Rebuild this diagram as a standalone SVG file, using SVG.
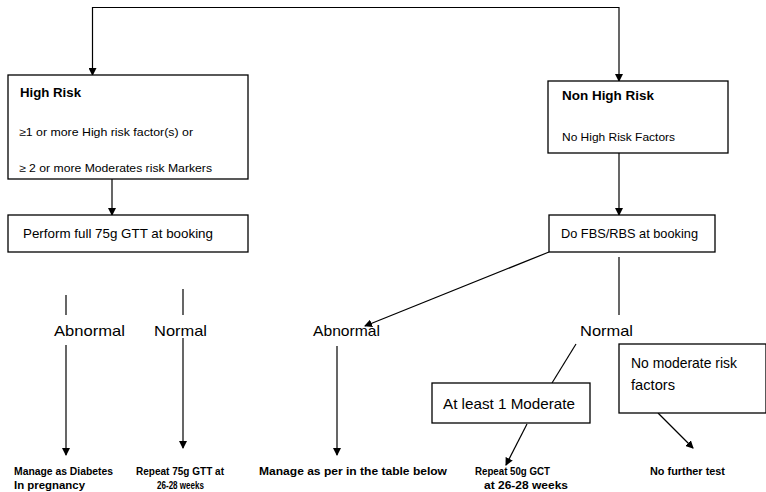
<svg xmlns="http://www.w3.org/2000/svg" width="766" height="492" viewBox="0 0 766 492">
<style>
.box{fill:#fff;stroke:#000;stroke-width:1.3}
.ln{fill:none;stroke:#000;stroke-width:1.2}
.t{font-family:"Liberation Sans",Arial,sans-serif;fill:#000}
.b{font-weight:bold}
</style>
<defs>
<marker id="ah" markerWidth="8" markerHeight="8" refX="7" refY="4" orient="auto" markerUnits="userSpaceOnUse">
<path d="M0,0 L8,4 L0,8 Z" fill="#000"/>
</marker>
</defs>
<rect width="766" height="492" fill="#fff"/>
<g id="connectors">
<path class="ln" d="M92.5,7.5 L619,7.5"/>
<path class="ln" d="M92.5,7 L92.5,75" marker-end="url(#ah)"/>
<path class="ln" d="M619,7 L619,81" marker-end="url(#ah)"/>
<path class="ln" d="M112,179 L112,215" marker-end="url(#ah)"/>
<path class="ln" d="M619,153 L619,215" marker-end="url(#ah)"/>
<path class="ln" d="M66,295 L66,315"/>
<path class="ln" d="M183,289 L183,315"/>
<path class="ln" d="M549,252 L365,326" marker-end="url(#ah)"/>
<path class="ln" d="M619,257 L619,315"/>
<path class="ln" d="M66,345 L66,455" marker-end="url(#ah)"/>
<path class="ln" d="M183,338 L183,448" marker-end="url(#ah)"/>
<path class="ln" d="M337,346 L337,455" marker-end="url(#ah)"/>
<path class="ln" d="M576,344 L552,383"/>
<path class="ln" d="M527,424 L506,465" marker-end="url(#ah)"/>
<path class="ln" d="M658,413 L693,448" marker-end="url(#ah)"/>
</g>
<g id="high-risk">
<rect class="box" x="8" y="75" width="240" height="104"/>
<text class="t b" x="20" y="97" font-size="13" textLength="61" lengthAdjust="spacingAndGlyphs">High Risk</text>
<text class="t" x="19" y="136" font-size="11" textLength="174" lengthAdjust="spacingAndGlyphs">≥1 or more High risk factor(s) or</text>
<text class="t" x="19" y="172" font-size="11" textLength="193" lengthAdjust="spacingAndGlyphs">≥ 2 or more Moderates risk Markers</text>
</g>
<g id="non-high-risk">
<rect class="box" x="548" y="81" width="180" height="72"/>
<text class="t b" x="562" y="100" font-size="13" textLength="92" lengthAdjust="spacingAndGlyphs">Non High Risk</text>
<text class="t" x="562" y="141" font-size="11" textLength="113" lengthAdjust="spacingAndGlyphs">No High Risk Factors</text>
</g>
<g id="perform-gtt">
<rect class="box" x="8" y="215" width="240" height="37"/>
<text class="t" x="23" y="238" font-size="13" textLength="190" lengthAdjust="spacingAndGlyphs">Perform full 75g GTT at booking</text>
</g>
<g id="do-fbs">
<rect class="box" x="549" y="215" width="166" height="37"/>
<text class="t" x="561" y="238" font-size="13" textLength="137" lengthAdjust="spacingAndGlyphs">Do FBS/RBS at booking</text>
</g>
<g id="abnormal-left">
<text class="t" x="54" y="336" font-size="15" textLength="71" lengthAdjust="spacingAndGlyphs">Abnormal</text>
</g>
<g id="normal-left">
<text class="t" x="154" y="336" font-size="15" textLength="53" lengthAdjust="spacingAndGlyphs">Normal</text>
</g>
<g id="abnormal-right">
<text class="t" x="313" y="336" font-size="15" textLength="67" lengthAdjust="spacingAndGlyphs">Abnormal</text>
</g>
<g id="normal-right">
<text class="t" x="580" y="336" font-size="15" textLength="53" lengthAdjust="spacingAndGlyphs">Normal</text>
</g>
<g id="at-least-moderate">
<rect class="box" x="432" y="383" width="158" height="40"/>
<text class="t" x="443" y="409" font-size="15" textLength="132" lengthAdjust="spacingAndGlyphs">At least 1 Moderate</text>
</g>
<g id="no-moderate">
<rect class="box" x="619" y="344" width="147" height="69"/>
<text class="t" x="631" y="368" font-size="15" textLength="106" lengthAdjust="spacingAndGlyphs">No moderate risk</text>
<text class="t" x="631" y="390" font-size="15" textLength="44" lengthAdjust="spacingAndGlyphs">factors</text>
</g>
<g id="manage-diabetes">
<text class="t b" x="14" y="475" font-size="10" textLength="99" lengthAdjust="spacingAndGlyphs">Manage as Diabetes</text>
<text class="t b" x="14" y="489" font-size="10" textLength="71" lengthAdjust="spacingAndGlyphs">In pregnancy</text>
</g>
<g id="repeat-gtt">
<text class="t b" x="136" y="475" font-size="10" textLength="88" lengthAdjust="spacingAndGlyphs">Repeat 75g GTT at</text>
<text class="t b" x="157" y="489" font-size="10" textLength="47" lengthAdjust="spacingAndGlyphs">26-28 weeks</text>
</g>
<g id="manage-table">
<text class="t b" x="259" y="475" font-size="10" textLength="188" lengthAdjust="spacingAndGlyphs">Manage as per in the table below</text>
</g>
<g id="repeat-gct">
<text class="t b" x="475" y="475" font-size="10" textLength="75" lengthAdjust="spacingAndGlyphs">Repeat 50g GCT</text>
<text class="t b" x="484" y="489" font-size="10" textLength="84" lengthAdjust="spacingAndGlyphs">at 26-28 weeks</text>
</g>
<g id="no-further-test">
<text class="t b" x="650" y="475" font-size="10" textLength="75" lengthAdjust="spacingAndGlyphs">No further test</text>
</g>
</svg>
